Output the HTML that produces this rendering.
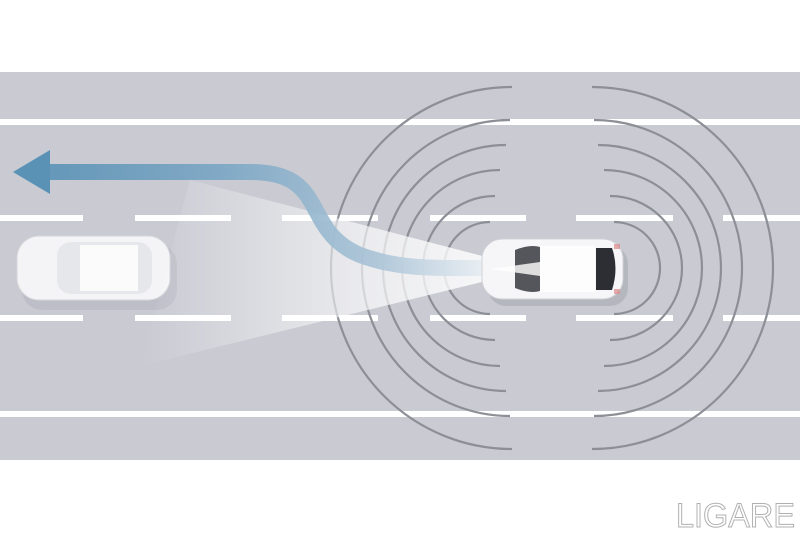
<!DOCTYPE html>
<html><head><meta charset="utf-8"><style>
html,body{margin:0;padding:0;background:#fff;width:800px;height:533px;overflow:hidden}
</style></head><body>
<svg width="800" height="533" viewBox="0 0 800 533" xmlns="http://www.w3.org/2000/svg">
<defs>
<linearGradient id="beam" x1="1" y1="0" x2="0" y2="0">
<stop offset="0" stop-color="#fff" stop-opacity="1"/>
<stop offset="0.35" stop-color="#fff" stop-opacity="0.75"/>
<stop offset="1" stop-color="#fff" stop-opacity="0"/>
</linearGradient>
<linearGradient id="arr" x1="0" y1="0" x2="1" y2="0">
<stop offset="0" stop-color="#5a92b6"/>
<stop offset="0.4" stop-color="#7aa6c4"/>
<stop offset="0.75" stop-color="#a9c3d6"/>
<stop offset="1" stop-color="#e8eef3"/>
</linearGradient>
</defs>
<rect x="0" y="72" width="800" height="388" fill="#c9cad2"/>
<rect x="0" y="119" width="800" height="6" fill="#fff"/>
<rect x="0" y="411" width="800" height="6" fill="#fff"/>
<g fill="#fff">
<rect x="0" y="215" width="83" height="6"/><rect x="135" y="215" width="96" height="6"/><rect x="282" y="215" width="96" height="6"/><rect x="430" y="215" width="96" height="6"/><rect x="576" y="215" width="97" height="6"/><rect x="723" y="215" width="77" height="6"/>
<rect x="0" y="315" width="83" height="6"/><rect x="135" y="315" width="96" height="6"/><rect x="282" y="315" width="96" height="6"/><rect x="430" y="315" width="96" height="6"/><rect x="576" y="315" width="97" height="6"/><rect x="723" y="315" width="77" height="6"/>
</g>
<g fill="none" stroke="#8d8f97" stroke-width="2.2">
<path d="M512 87 A181 181 0 0 0 512 449"/>
<path d="M510 120 A148 148 0 0 0 510 416"/>
<path d="M506 145 A123 123 0 0 0 506 391"/>
<path d="M500 170 A98 98 0 0 0 500 366"/>
<path d="M495 196 A72 72 0 0 0 495 340"/>
<path d="M490 222 A46 46 0 0 0 490 314"/>
<path d="M592 87 A181 181 0 0 1 592 449"/>
<path d="M594 120 A148 148 0 0 1 594 416"/>
<path d="M598 145 A123 123 0 0 1 598 391"/>
<path d="M604 170 A98 98 0 0 1 604 366"/>
<path d="M610 196 A72 72 0 0 1 610 340"/>
<path d="M614 222 A46 46 0 0 1 614 314"/>
</g>
<!-- left car -->
<rect x="22" y="244" width="155" height="66" rx="20" fill="#b5b6bf" opacity="0.6"/>
<rect x="17" y="236" width="153" height="64" rx="22" fill="#f4f4f6" stroke="#d5d6dc"/>
<rect x="57" y="242" width="95" height="52" rx="14" fill="#e6e7ea"/>
<rect x="80" y="245" width="58" height="46" fill="#fbfbfc"/>
<!-- beam -->
<polygon points="490,258 490,280 140,366 190,180" fill="url(#beam)" opacity="0.85"/>
<!-- arrow -->
<path d="M50 172 L250 172 C330 172 300 230 360 255 C400 270 440 268 485 268" fill="none" stroke="url(#arr)" stroke-width="16" opacity="0.9"/>
<polygon points="13,172 50,150 50,194" fill="#5a92b6"/>
<!-- right car -->
<rect x="488" y="246" width="140" height="60" rx="18" fill="#a9aab3" opacity="0.6"/>
<rect x="482" y="239" width="141" height="60" rx="20" fill="#f6f6f8" stroke="#d0d1d6"/>
<path d="M515 250 Q530 244 540 247 L540 291 Q530 294 515 288 Z" fill="#55565c"/>
<rect x="540" y="246" width="55" height="46" fill="#fdfdfd"/>
<path d="M596 248 L612 248 Q619 268 612 290 L596 290 Z" fill="#2d2e33"/>
<rect x="614" y="244" width="6" height="5" fill="#d88" opacity="0.7"/>
<rect x="614" y="289" width="6" height="5" fill="#d88" opacity="0.7"/>
<polygon points="540,262 540,276 490,269" fill="#fff" opacity="0.8"/>
<text x="676" y="527" font-family="Liberation Sans, sans-serif" font-size="34" fill="#fff" stroke="#b0b0b0" stroke-width="1" textLength="119" lengthAdjust="spacingAndGlyphs">LIGARE</text>
</svg>
</body></html>
